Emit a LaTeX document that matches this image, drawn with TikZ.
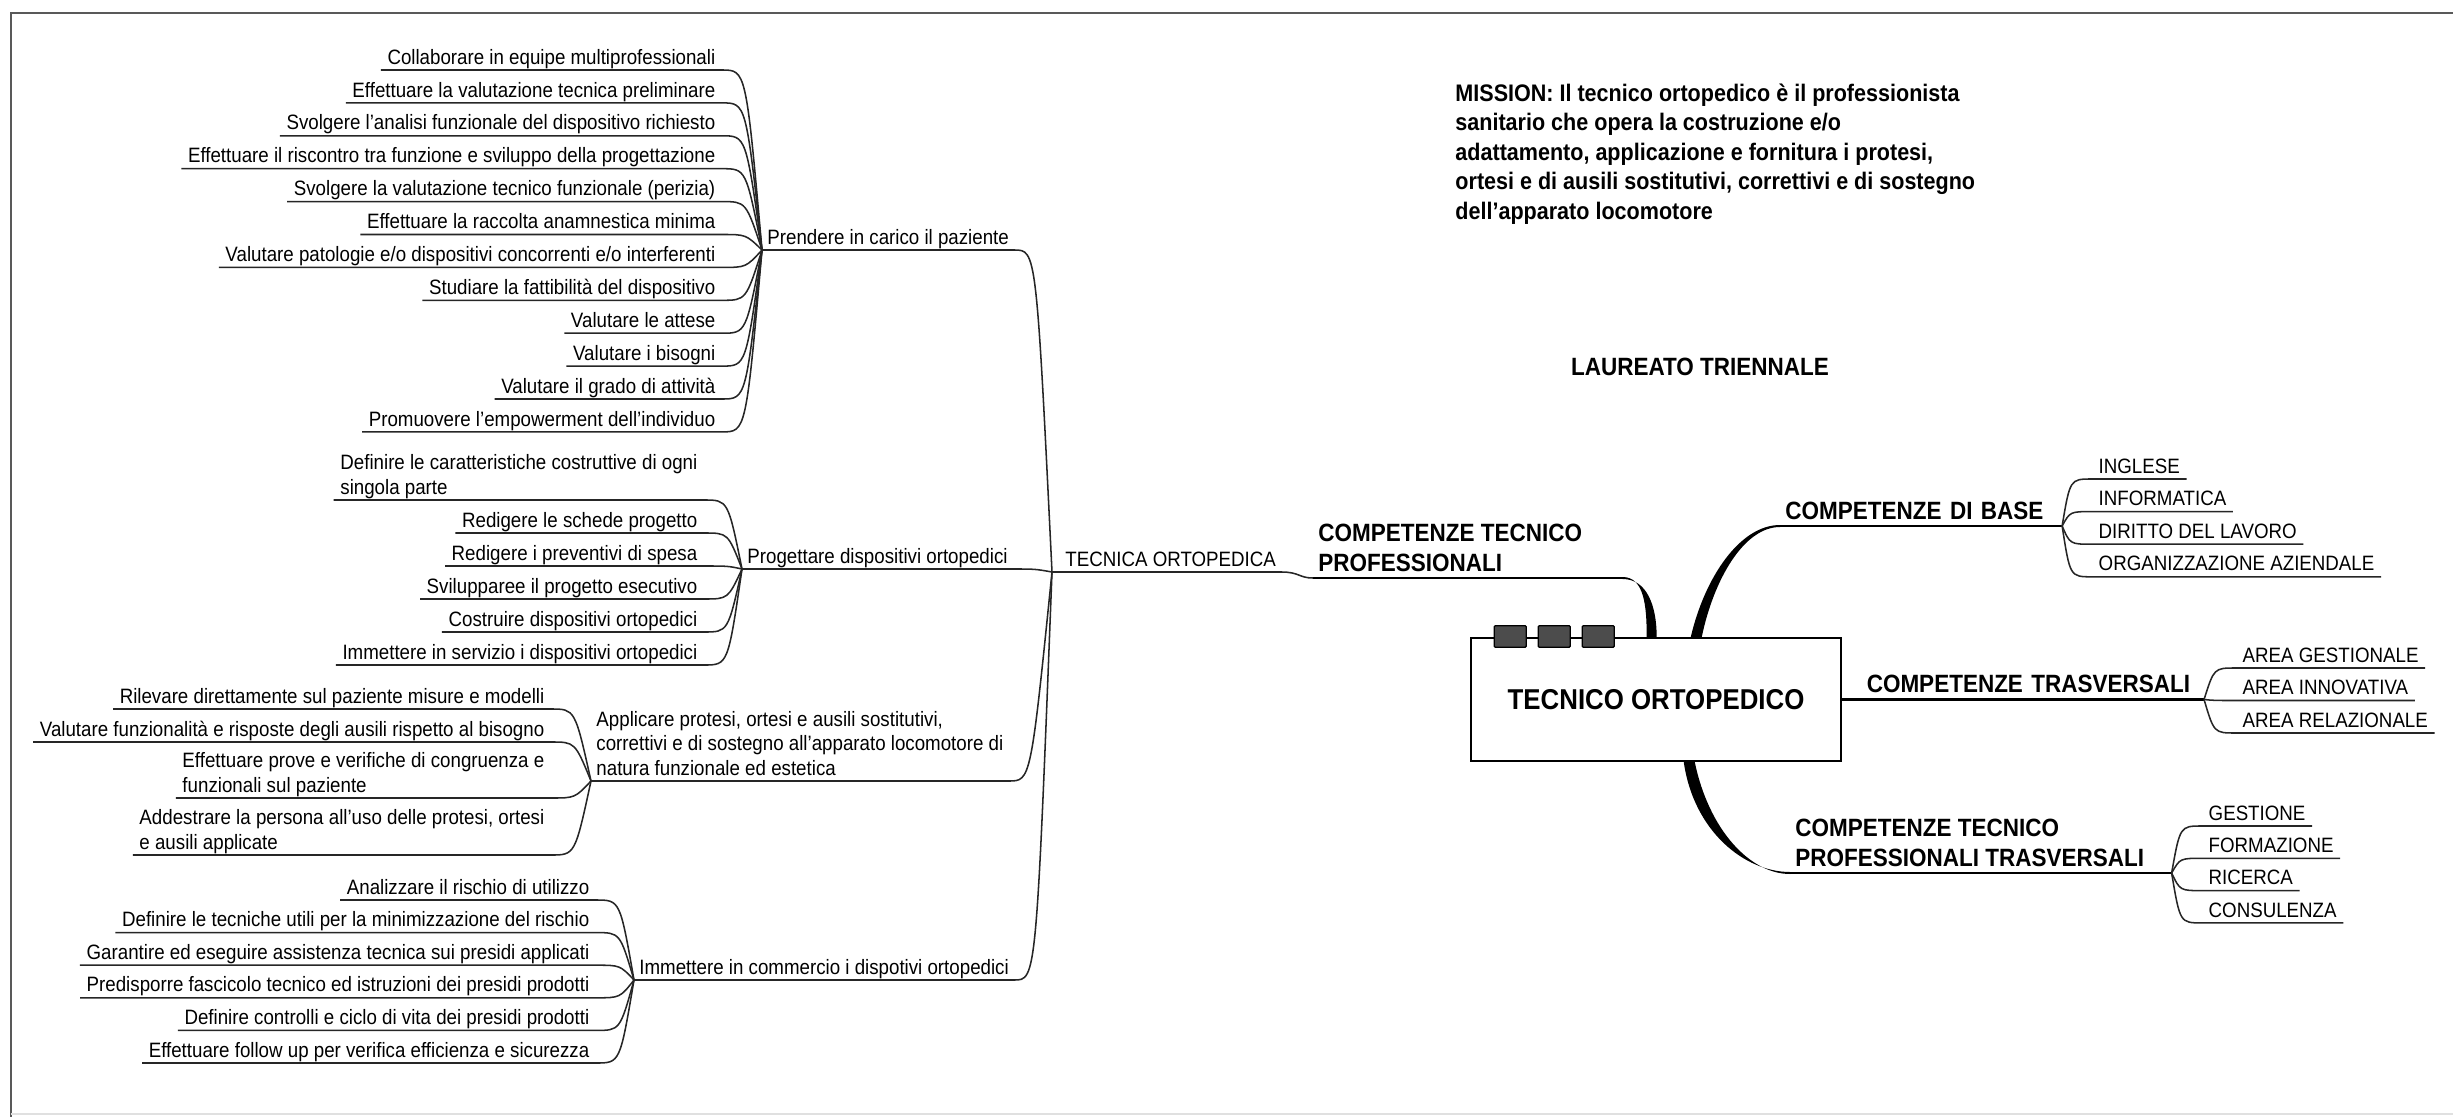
\documentclass[tikz,border=0pt]{standalone}
\usepackage{fontspec}
\setmainfont[FakeStretch=0.9]{Liberation Sans}
\usetikzlibrary{positioning,calc}

\newcommand\leaffont{\fontsize{9.47}{11.15}\selectfont}
\newcommand\brfont{\bfseries\fontsize{11.38}{13.43}\selectfont}
\newcommand\missionfont{\bfseries\fontsize{10.9}{13.47}\selectfont}
\newcommand\rootfont{\bfseries\fontsize{13.07}{15}\selectfont}

\begin{document}
\begin{tikzpicture}[x=0.16mm, y=-0.16mm,
  leaf/.style={anchor=south east, align=left, font=\leaffont, inner xsep=1mm, inner ysep=0.1mm, text depth=0.22em},
  rleaf/.style={leaf, anchor=south west},
  topic/.style={leaf, anchor=south west, inner xsep=0.8mm},
  branch/.style={anchor=south west, align=left, font=\brfont, inner xsep=0.8mm, inner ysep=0.1mm, text depth=0.25em},
  ul/.style={draw=black!85, line width=0.7pt},
  thick ul/.style={draw=black, line width=1pt}]

% cornice
\useasboundingbox (0,0) rectangle (2453,1117);
\draw[black!65, line width=1.2pt] (11,1117) -- (11,13) -- (2453,13);
\draw[black!12, line width=0.8pt] (11,1114) -- (2453,1114);

% testi
\node[anchor=north west, align=left, inner sep=0pt, font=\missionfont] (mission) at (1455,83)
  {MISSION: Il tecnico ortopedico è il professionista\\sanitario che opera la costruzione e/o\\adattamento, applicazione e fornitura i protesi,\\ortesi e di ausili sostitutivi, correttivi e di sostegno\\dell'apparato locomotore};
\node[font=\brfont, inner sep=0pt] (laureato) at (1700,367) {LAUREATO TRIENNALE};

% centro
\node[draw, fill=white, line width=0.9pt, minimum width=59.3mm, minimum height=19.6mm, font=\rootfont] (root) at (1656,699.5) {TECNICO ORTOPEDICO};
\foreach \k in {0,1,2}
  \draw[fill=black!70, line width=0.6pt, rounded corners=0.5pt] ($(root.north west)+(24.5+44*\k,-11.6)$) rectangle +(32,21.6);

% competenze
\node[branch] (ctp) at (1313,578) {COMPETENZE TECNICO\\PROFESSIONALI};
\node[branch, text width=43.4mm] (cdb) at (1780,526) {COMPETENZE DI BASE};
\node[branch, text width=53.1mm] (ct) at ($(root.east)+(19,0)$) {COMPETENZE TRASVERSALI};
\node[branch] (ctpt) at (1790,873) {COMPETENZE TECNICO\\PROFESSIONALI TRASVERSALI};
\coordinate (ctpend) at ($(ctp.south east)+(35,0)$);
\coordinate (jtt) at ($(ctpt.south east)+(22,0)$);

\draw[thick ul] (ctp.south west) -- (ctpend);
\draw[thick ul] (cdb.south west) -- (cdb.south east);
\draw[thick ul] (ctpt.south west) -- (jtt);
\draw[thick ul, line width=1.3pt] (root.east) -- (ct.south east);

% rami spessi
\fill ($(ctpend)+(0,-1)$) .. controls +(22,0) and +(0,-30) .. ($(root.north west)+(177,0)$)
  -- ($(root.north west)+(187,0)$) .. controls +(0,-32) and +(24,0) .. ($(ctpend)+(0,1)$) -- cycle;
\fill ($(root.north west)+(221,0)$) .. controls +(14,-60) and +(-40,0) .. ($(cdb.south west)+(0,-1)$)
  -- ($(cdb.south west)+(0,1)$) .. controls +(-36,0) and +(12,-58) .. ($(root.north west)+(232,0)$) -- cycle;
\fill ($(root.south west)+(214,0)$) .. controls +(10,70) and +(-45,0) .. ($(ctpt.south west)+(0,-1)$)
  -- ($(ctpt.south west)+(0,1)$) .. controls +(-40,0) and +(14,68) .. ($(root.south west)+(225,0)$) -- cycle;

% foglie a destra
\foreach \t [count=\i] in {INGLESE, INFORMATICA, DIRITTO DEL LAVORO, ORGANIZZAZIONE AZIENDALE}{
  \node[rleaf] (b\i) at (2092,{479+32.6*(\i-1)}) {\t};
  \draw[ul] (b\i.south east) -- (b\i.south west) .. controls +(-22,0) .. (cdb.south east);
}
\foreach \t [count=\i] in {AREA GESTIONALE, AREA INNOVATIVA, AREA RELAZIONALE}{
  \node[rleaf] (a\i) at (2236,{668+32.5*(\i-1)}) {\t};
  \draw[ul] (a\i.south east) -- (a\i.south west) .. controls +(-22,0) .. (ct.south east);
}
\foreach \t [count=\i] in {GESTIONE, FORMAZIONE, RICERCA, CONSULENZA}{
  \node[rleaf] (t\i) at (2202,{826+32.3*(\i-1)}) {\t};
  \draw[ul] (t\i.south east) -- (t\i.south west) .. controls +(-22,0) .. (jtt);
}

% tecnica ortopedica
\coordinate (jt) at (1052,572);
\node[topic] (tec) at (1060,572) {TECNICA ORTOPEDICA};
\draw[ul] (jt) -- (tec.south east) .. controls +(18,0) and +(-14,0) .. (ctp.south west);

% prendere in carico
\coordinate (jp) at (762,250);
\node[topic] (prendere) at (jp) {Prendere in carico il paziente};
\draw[ul] (jp) -- (prendere.south east) .. controls +(22,0) .. (jt);
\foreach \t [count=\i] in {Collaborare in equipe multiprofessionali, Effettuare la valutazione tecnica preliminare,
  Svolgere l'analisi funzionale del dispositivo richiesto, Effettuare il riscontro tra funzione e sviluppo della progettazione,
  Svolgere la valutazione tecnico funzionale (perizia), Effettuare la raccolta anamnestica minima,
  Valutare patologie e/o dispositivi concorrenti e/o interferenti, Studiare la fattibilità del dispositivo,
  Valutare le attese, Valutare i bisogni, Valutare il grado di attività, Promuovere l'empowerment dell'individuo}{
  \node[leaf] (p\i) at (722,{70+32.9*(\i-1)}) {\t};
  \draw[ul] (p\i.south west) -- (p\i.south east) .. controls +(24,0) .. (jp);
}

% progettare
\coordinate (jg) at (742,569);
\node[topic] (progettare) at (jg) {Progettare dispositivi ortopedici};
\draw[ul] (jg) -- (progettare.south east) .. controls +(22,0) .. (jt);
\foreach \y/\t [count=\i] in {500/{Definire le caratteristiche costruttive di ogni\\singola parte}, 533/{Redigere le schede progetto},
  566/{Redigere i preventivi di spesa}, 599/{Svilupparee il progetto esecutivo}, 632/{Costruire dispositivi ortopedici},
  665/{Immettere in servizio i dispositivi ortopedici}}{
  \node[leaf] (g\i) at (704,\y) {\t};
  \draw[ul] (g\i.south west) -- (g\i.south east) .. controls +(24,0) .. (jg);
}

% applicare
\coordinate (ja) at (591,781);
\node[topic] (applicare) at (ja) {Applicare protesi, ortesi e ausili sostitutivi,\\correttivi e di sostegno all'apparato locomotore di\\natura funzionale ed estetica};
\draw[ul] (ja) -- (applicare.south east) .. controls +(22,0) .. (jt);
\foreach \y/\t [count=\i] in {709/{Rilevare direttamente sul paziente misure e modelli},
  742/{Valutare funzionalità e risposte degli ausili rispetto al bisogno},
  798/{Effettuare prove e verifiche di congruenza e\\funzionali sul paziente},
  855/{Addestrare la persona all'uso delle protesi, ortesi\\e ausili applicate}}{
  \node[leaf] (s\i) at (551,\y) {\t};
  \draw[ul] (s\i.south west) -- (s\i.south east) .. controls +(24,0) .. (ja);
}

% immettere in commercio
\coordinate (ji) at (634,980);
\node[topic] (immettere) at (ji) {Immettere in commercio i dispotivi ortopedici};
\draw[ul] (ji) -- (immettere.south east) .. controls +(22,0) .. (jt);
\foreach \t [count=\i] in {Analizzare il rischio di utilizzo, Definire le tecniche utili per la minimizzazione del rischio,
  Garantire ed eseguire assistenza tecnica sui presidi applicati, Predisporre fascicolo tecnico ed istruzioni dei presidi prodotti,
  Definire controlli e ciclo di vita dei presidi prodotti, Effettuare follow up per verifica efficienza e sicurezza}{
  \node[leaf] (c\i) at (596,{900+32.6*(\i-1)}) {\t};
  \draw[ul] (c\i.south west) -- (c\i.south east) .. controls +(24,0) .. (ji);
}
\end{tikzpicture}
\end{document}
